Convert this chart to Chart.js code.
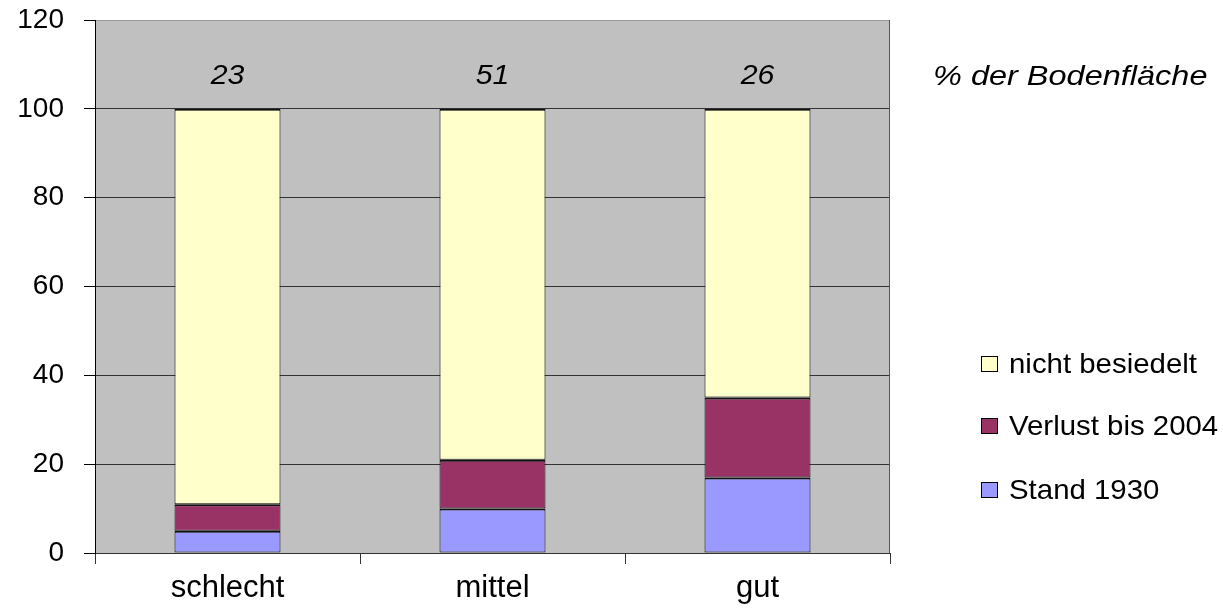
<!DOCTYPE html>
<html>
<head>
<meta charset="utf-8">
<script src="https://cdn.jsdelivr.net/npm/chart.js@4"></script>
<style>
html,body{margin:0;padding:0;background:#fff;}
#wrap{width:1223px;height:613px;position:relative;}
</style>
</head>
<body>
<div id="wrap"><canvas id="c" width="1223" height="613"></canvas></div>
<script>
const categories = ['schlecht', 'mittel', 'gut'];
const stand1930 = [5, 10, 17];
const verlust2004 = [6, 11, 18];
const nichtBesiedelt = [89, 79, 65];
const topLabels = ['23', '51', '26'];
const unitLabel = '% der Bodenfläche';
const seriesNames = ['Stand 1930', 'Verlust bis 2004', 'nicht besiedelt'];
const seriesColors = ['#9999FF', '#993366', '#FFFFCC'];

const FONT = '"Liberation Sans", Arial, sans-serif';

function stretchText(ctx, text, x, y, sx, align) {
  ctx.save();
  ctx.translate(x, y);
  ctx.scale(sx, 1);
  ctx.textAlign = align;
  ctx.fillText(text, 0, 0);
  ctx.restore();
}

const bgPlugin = {
  id: 'bg',
  beforeDraw(chart) {
    const {ctx, chartArea: a} = chart;
    ctx.save();
    ctx.fillStyle = '#C0C0C0';
    ctx.fillRect(a.left, a.top, a.right - a.left, a.bottom - a.top);
    ctx.restore();
  },
  afterDraw(chart) {
    const {ctx, chartArea: a, scales} = chart;
    ctx.save();
    ctx.strokeStyle = '#555';
    ctx.lineWidth = 1;
    ctx.beginPath();
    ctx.moveTo(a.right - 0.5, a.top);
    ctx.lineTo(a.right - 0.5, a.bottom);
    ctx.stroke();
    ctx.fillStyle = '#000';
    ctx.textBaseline = 'middle';
    ctx.font = 'italic 27px ' + FONT;
    const ly = scales.y.getPixelForValue(110) + 12;
    topLabels.forEach((t, i) => {
      stretchText(ctx, t, scales.x.getPixelForValue(i), ly, 1.12, 'center');
    });
    ctx.font = 'italic 28px ' + FONT;
    stretchText(ctx, unitLabel, 933, ly + 1, 1.16, 'left');
    ctx.font = '28px ' + FONT;
    const rows = [2, 1, 0];
    const rowY = [364, 426, 490];
    rows.forEach((s, k) => {
      const y = rowY[k];
      ctx.fillStyle = seriesColors[s];
      ctx.fillRect(981.5, y - 7.5, 16, 15);
      ctx.strokeStyle = '#000';
      ctx.lineWidth = 1;
      ctx.strokeRect(981.5, y - 7.5, 16, 15);
      ctx.fillStyle = '#000';
      stretchText(ctx, seriesNames[s], 1009, y + 1, 1.05, 'left');
    });
    ctx.restore();
  }
};

new Chart(document.getElementById('c'), {
  type: 'bar',
  data: {
    labels: categories,
    datasets: [
      {label: seriesNames[0], data: stand1930, backgroundColor: seriesColors[0]},
      {label: seriesNames[1], data: verlust2004, backgroundColor: seriesColors[1]},
      {label: seriesNames[2], data: nichtBesiedelt, backgroundColor: seriesColors[2]}
    ].map(d => Object.assign(d, {borderColor: '#111', borderWidth: {top: 2, bottom: 1, left: 1, right: 1}, borderSkipped: false,
      categoryPercentage: 1.0, barPercentage: 0.4}))
  },
  options: {
    responsive: false,
    animation: false,
    devicePixelRatio: 1,
    layout: {padding: {left: 0, right: 333, top: 20, bottom: 0}},
    plugins: {legend: {display: false}, tooltip: {enabled: false}},
    scales: {
      x: {
        stacked: true,
        grid: {offset: true, drawOnChartArea: false, drawTicks: true, tickLength: 11, color: '#000', tickColor: '#333'},
        border: {color: '#333', width: 1},
        ticks: {color: '#000', font: {family: FONT, size: 31}, padding: 6},
        afterFit(s) { s.height = 60; s.paddingLeft = 0; s.paddingRight = 0; }
      },
      y: {
        stacked: true,
        min: 0, max: 120,
        ticks: {stepSize: 20, color: '#000', font: {family: FONT, size: 28}, padding: 20},
        grid: {
          color: ctx => (ctx.tick && ctx.tick.value === 120) ? '#999' : '#333',
          tickColor: '#000', tickLength: 11, lineWidth: 1
        },
        border: {color: '#000', width: 1},
        afterFit(s) { s.width = 95; s.paddingTop = 0; s.paddingBottom = 0; }
      }
    }
  },
  plugins: [bgPlugin]
});
</script>
</body>
</html>
